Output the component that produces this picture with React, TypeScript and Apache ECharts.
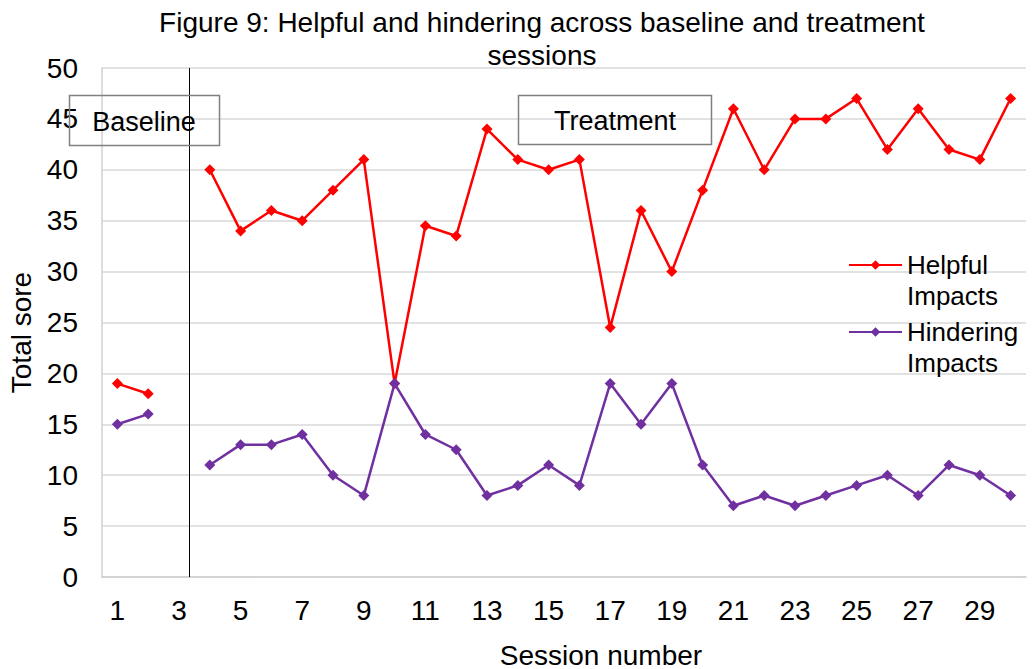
import React, { useEffect, useRef } from "react";
import * as echarts from "echarts";

const sessions: string[] = Array.from({ length: 30 }, (_, i) => String(i + 1));
const helpful: (number | null)[] = [
  19, 18, null, 40, 34, 36, 35, 38, 41, 19,
  34.5, 33.5, 44, 41, 40, 41, 24.5, 36, 30, 38,
  46, 40, 45, 45, 47, 42, 46, 42, 41, 47,
];
const hindering: (number | null)[] = [
  15, 16, null, 11, 13, 13, 14, 10, 8, 19,
  14, 12.5, 8, 9, 11, 9, 19, 15, 19, 11,
  7, 8, 7, 8, 9, 10, 8, 11, 10, 8,
];
const phaseChangeIndex = 2.33; // between session 3 and 4
const titleText = "Figure 9: Helpful and hindering across baseline and treatment\nsessions";

const FONT = "'Liberation Sans', Arial, sans-serif";

const legendText = {
  fontFamily: FONT,
  fontSize: 26,
  color: "#000",
  lineHeight: 31,
};

export default function App() {
  const ref = useRef<HTMLDivElement>(null);
  useEffect(() => {
    if (!ref.current) return;
    const chart = echarts.init(ref.current, null, { renderer: "svg" });
    const option: any = {
      animation: false,
      backgroundColor: "#ffffff",
      textStyle: { fontFamily: FONT },
      title: {
        text: titleText,
        left: 542,
        top: 6,
        padding: 0,
        textAlign: "center",
        textStyle: {
          fontFamily: FONT,
          fontSize: 28,
          fontWeight: "normal",
          color: "#000",
          lineHeight: 33,
        },
      },
      grid: {
        left: 102,
        top: 68,
        right: 6,
        bottom: 92,
        containLabel: false,
        outerBoundsMode: "none",
      },
      legend: [
        {
          data: ["Helpful Impacts"],
          orient: "vertical",
          left: 848,
          top: 265 - 46.5,
          padding: 0,
          itemWidth: 53,
          itemHeight: 12,
          itemGap: 0,
          formatter: (n: string) => "\n" + n.replace(" ", "\n"),
          textStyle: legendText,
        },
        {
          data: ["Hindering Impacts"],
          orient: "vertical",
          left: 848,
          top: 332 - 46.5,
          padding: 0,
          itemWidth: 53,
          itemHeight: 12,
          itemGap: 0,
          formatter: (n: string) => "\n" + n.replace(" ", "\n"),
          textStyle: legendText,
        },
      ],
      xAxis: [
        {
          type: "category",
          data: sessions,
          boundaryGap: true,
          name: "Session number",
          nameLocation: "middle",
          nameGap: 64,
          nameTextStyle: {
            fontFamily: FONT,
            fontSize: 28,
            color: "#000",
            padding: [0, 0, 0, 74],
          },
          axisLine: { show: true, lineStyle: { color: "#d0d0d0", width: 1.5 } },
          axisTick: { show: false },
          axisLabel: {
            interval: 1,
            margin: 19,
            fontFamily: FONT,
            fontSize: 28,
            color: "#000",
          },
          splitLine: { show: false },
        },
        {
          type: "value",
          min: -0.5,
          max: 29.5,
          show: false,
          splitLine: { show: false },
        },
      ],
      yAxis: {
        type: "value",
        min: 0,
        max: 50,
        interval: 5,
        name: "Total sore",
        nameLocation: "middle",
        nameRotate: 90,
        nameGap: 62,
        nameTextStyle: {
          fontFamily: FONT,
          fontSize: 28,
          color: "#000",
          padding: [0, 20, 0, 0],
        },
        axisLine: {
          show: true,
          onZero: false,
          lineStyle: { color: "#d0d0d0", width: 1.5 },
        },
        axisTick: { show: false },
        axisLabel: {
          margin: 24,
          fontFamily: FONT,
          fontSize: 28,
          color: "#000",
        },
        splitLine: { show: true, lineStyle: { color: "#d9d9d9", width: 1.5 } },
      },
      series: [
        {
          name: "Helpful Impacts",
          type: "line",
          data: helpful,
          connectNulls: false,
          symbol: "diamond",
          symbolSize: 11,
          showAllSymbol: true,
          itemStyle: { color: "#ff0000" },
          lineStyle: { color: "#ff0000", width: 2.5 },
        },
        {
          name: "Hindering Impacts",
          type: "line",
          data: hindering,
          connectNulls: false,
          symbol: "diamond",
          symbolSize: 11,
          showAllSymbol: true,
          itemStyle: { color: "#7030a0" },
          lineStyle: { color: "#7030a0", width: 2.5 },
        },
        {
          name: "phase",
          type: "line",
          xAxisIndex: 1,
          yAxisIndex: 0,
          data: [],
          silent: true,
          markLine: {
            silent: true,
            symbol: "none",
            label: { show: false },
            lineStyle: { color: "#000", width: 1, type: "solid" },
            data: [{ xAxis: phaseChangeIndex }],
          },
        },
      ],
      graphic: [
        {
          type: "rect",
          shape: { x: 69.5, y: 95.5, width: 150, height: 50 },
          style: { fill: "none", stroke: "#808080", lineWidth: 1.5 },
          z: 100,
        },
        {
          type: "text",
          x: 144,
          y: 122,
          style: {
            text: "Baseline",
            fontFamily: FONT,
            fontSize: 27,
            fill: "#000",
            align: "center",
            verticalAlign: "middle",
          },
          z: 100,
        },
        {
          type: "rect",
          shape: { x: 518.5, y: 95.5, width: 193, height: 49 },
          style: { fill: "none", stroke: "#808080", lineWidth: 1.5 },
          z: 100,
        },
        {
          type: "text",
          x: 615,
          y: 121,
          style: {
            text: "Treatment",
            fontFamily: FONT,
            fontSize: 27,
            fill: "#000",
            align: "center",
            verticalAlign: "middle",
          },
          z: 100,
        },
      ],
    };
    chart.setOption(option);
    return () => chart.dispose();
  }, []);
  return (
    <div
      ref={ref}
      style={{ position: "fixed", left: 0, top: 0, width: 1032, height: 669 }}
    />
  );
}
